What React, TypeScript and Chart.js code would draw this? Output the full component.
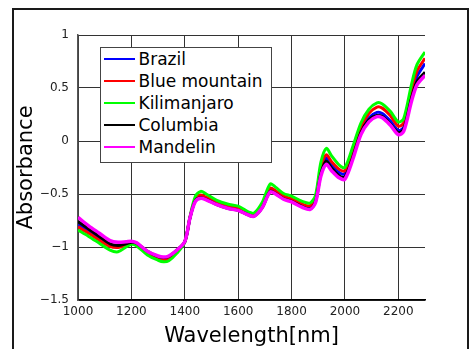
import React, { useEffect, useRef } from "react";
import { Chart, registerables } from "chart.js";

Chart.register(...registerables);

const wavelengths = [
  1000, 1040, 1080, 1120, 1150, 1180, 1200, 1220, 1260, 1300, 1320, 1340, 1370, 1400,
  1420, 1440, 1460, 1480, 1520, 1560, 1600, 1640, 1660, 1690, 1720, 1740, 1770, 1800,
  1840, 1870, 1890, 1910, 1930, 1950, 1980, 2000, 2030, 2060, 2090, 2120, 2140, 2170,
  2200, 2220, 2250, 2270, 2300,
];

const brazil = [
  -0.79, -0.855, -0.92, -0.98, -0.99, -0.975, -0.96, -0.97, -1.045, -1.095, -1.105, -1.095, -1.035, -0.95,
  -0.72, -0.555, -0.525, -0.54, -0.59, -0.625, -0.645, -0.69, -0.7, -0.62, -0.46, -0.485, -0.535, -0.56,
  -0.61, -0.625, -0.555, -0.28, -0.16, -0.225, -0.3, -0.31, -0.12, 0.1, 0.22, 0.27, 0.26, 0.19,
  0.1, 0.13, 0.45, 0.61, 0.73,
];

const blueMountain = [
  -0.81, -0.87, -0.935, -0.995, -1.005, -0.985, -0.965, -0.98, -1.06, -1.11, -1.12, -1.11, -1.045, -0.95,
  -0.715, -0.545, -0.51, -0.53, -0.58, -0.615, -0.635, -0.685, -0.695, -0.605, -0.445, -0.47, -0.52, -0.545,
  -0.595, -0.61, -0.54, -0.25, -0.13, -0.195, -0.27, -0.28, -0.09, 0.13, 0.26, 0.32, 0.31, 0.24,
  0.14, 0.17, 0.49, 0.66, 0.78,
];

const kilimanjaro = [
  -0.84, -0.9, -0.965, -1.03, -1.045, -1.0, -0.975, -0.99, -1.075, -1.125, -1.14, -1.13, -1.06, -0.955,
  -0.71, -0.52, -0.475, -0.5, -0.56, -0.595, -0.615, -0.67, -0.68, -0.58, -0.405, -0.435, -0.495, -0.52,
  -0.57, -0.585, -0.51, -0.2, -0.07, -0.14, -0.23, -0.25, -0.05, 0.17, 0.3, 0.36, 0.35, 0.28,
  0.18, 0.21, 0.54, 0.72, 0.84,
];

const columbia = [
  -0.76, -0.83, -0.9, -0.97, -0.985, -0.97, -0.955, -0.965, -1.04, -1.09, -1.1, -1.09, -1.03, -0.95,
  -0.72, -0.56, -0.535, -0.55, -0.6, -0.635, -0.655, -0.7, -0.71, -0.63, -0.475, -0.495, -0.545, -0.57,
  -0.62, -0.64, -0.57, -0.31, -0.19, -0.255, -0.33, -0.34, -0.15, 0.08, 0.2, 0.24, 0.23, 0.16,
  0.08, 0.11, 0.41, 0.56, 0.65,
];

const mandelin = [
  -0.72, -0.8, -0.87, -0.94, -0.955, -0.95, -0.945, -0.96, -1.04, -1.085, -1.095, -1.085, -1.03, -0.95,
  -0.72, -0.57, -0.54, -0.555, -0.6, -0.635, -0.655, -0.7, -0.71, -0.63, -0.48, -0.5, -0.55, -0.575,
  -0.625, -0.645, -0.58, -0.33, -0.22, -0.28, -0.35, -0.36, -0.17, 0.06, 0.18, 0.23, 0.22, 0.15,
  0.06, 0.09, 0.38, 0.53, 0.62,
];

const seriesNames = ["Brazil", "Blue mountain", "Kilimanjaro", "Columbia", "Mandelin"];
const seriesValues = [brazil, blueMountain, kilimanjaro, columbia, mandelin];
const seriesColors = ["#0000ff", "#ff0000", "#00ff00", "#000000", "#ff00ff"];

const xTicks = [1000, 1200, 1400, 1600, 1800, 2000, 2200];
const yTicks = [-1.5, -1, -0.5, 0, 0.5, 1];

const FONT = "'DejaVu Sans', sans-serif";

export default function App() {
  const canvasRef = useRef<HTMLCanvasElement | null>(null);

  useEffect(() => {
    document.body.style.margin = "0";
    const canvas = canvasRef.current;
    if (!canvas) return;

    const datasets = seriesNames.map((name, s) => ({
      label: name,
      data: wavelengths.map((x, i) => ({ x, y: seriesValues[s][i] })),
      borderColor: seriesColors[s],
      backgroundColor: seriesColors[s],
      borderWidth: s === 4 ? 3.5 : 3,
      pointRadius: 0,
      tension: 0.3,
      fill: false,
      order: seriesNames.length - s,
    }));

    const chart = new Chart(canvas, {
      type: "line",
      data: { datasets },
      options: {
        animation: false,
        responsive: false,
        devicePixelRatio: 1,
        layout: { padding: { left: 0, right: 44, top: 35, bottom: 0 } },
        plugins: {
          legend: { display: false },
          tooltip: { enabled: false },
        },
        scales: {
          x: {
            type: "linear",
            min: 1000,
            max: 2300,
            afterBuildTicks: (axis: any) => {
              axis.ticks = xTicks.map((v) => ({ value: v }));
            },
            afterFit: (axis: any) => {
              axis.height = 49;
            },
            grid: { color: "#333", lineWidth: 1, drawTicks: false },
            border: { color: "#000", width: 1.5 },
            ticks: {
              padding: 5,
              color: "#222",
              font: { family: FONT, size: 12 },
              maxRotation: 0,
              autoSkip: false,
              callback: (v: any) => String(v),
            },
            title: {
              display: true,
              text: "Wavelength[nm]",
              color: "#000",
              font: { family: FONT, size: 21 },
              padding: { top: 0, bottom: 0 },
            },
          },
          y: {
            type: "linear",
            min: -1.5,
            max: 1,
            afterBuildTicks: (axis: any) => {
              axis.ticks = yTicks.map((v) => ({ value: v }));
            },
            afterFit: (axis: any) => {
              axis.width = 78;
            },
            grid: { color: "#333", lineWidth: 1, drawTicks: false },
            border: { color: "#555", width: 1.5 },
            ticks: {
              padding: 9,
              color: "#222",
              font: { family: FONT, size: 12 },
              callback: (v: any) => String(v).replace("-", "\u2212"),
            },
            title: {
              display: true,
              text: "Absorbance",
              color: "#000",
              font: { family: FONT, size: 21 },
              padding: { top: 14, bottom: 0 },
            },
          },
        },
      },
    });

    return () => chart.destroy();
  }, []);

  return (
    <div style={{ position: "relative", width: 469, height: 349, overflow: "hidden", background: "#fff" }}>
      <canvas ref={canvasRef} width={469} height={349} style={{ width: 469, height: 349, display: "block" }} />
      <div
        style={{
          position: "absolute",
          left: 12,
          top: 8,
          width: 457,
          height: 420,
          border: "2px solid #1a1a1a",
          boxSizing: "border-box",
          pointerEvents: "none",
        }}
      />
      <div
        style={{
          position: "absolute",
          left: 100,
          top: 47,
          width: 172,
          height: 116,
          border: "1.5px solid #444",
          boxSizing: "border-box",
          background: "#fff",
          fontFamily: FONT,
          fontSize: 17,
          color: "#000",
        }}
      >
        {seriesNames.map((name, i) => (
          <div key={name} style={{ display: "flex", alignItems: "center", height: 22, lineHeight: "22px" }}>
            <div style={{ marginLeft: 2.5, width: 31, height: 2.5, background: seriesColors[i] }} />
            <div style={{ marginLeft: 4, whiteSpace: "nowrap" }}>{name}</div>
          </div>
        ))}
      </div>
    </div>
  );
}
